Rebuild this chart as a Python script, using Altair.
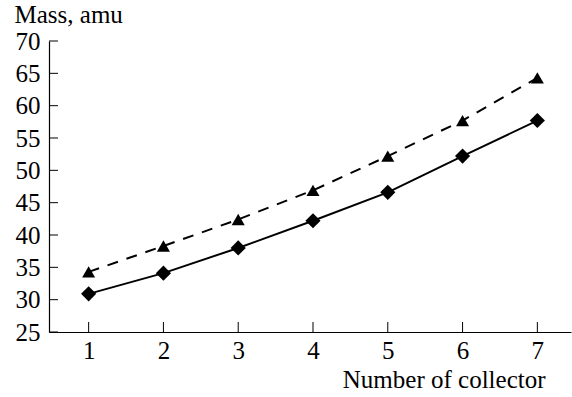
import altair as alt
import pandas as pd

collectors = [1, 2, 3, 4, 5, 6, 7]
mass_solid = [30.9, 34.1, 38.0, 42.2, 46.6, 52.2, 57.7]
mass_dashed = [34.3, 38.3, 42.4, 46.9, 52.2, 57.7, 64.3]
y_ticks = [25, 30, 35, 40, 45, 50, 55, 60, 65, 70]
x_ticks = [1, 2, 3, 4, 5, 6, 7]

FONT = "Liberation Serif"
FS = 25
W, H = 522, 291

solid = pd.DataFrame({"collector": collectors, "mass": mass_solid})
dashed = pd.DataFrame({"collector": collectors, "mass": mass_dashed})
yt = pd.DataFrame({"mass": y_ticks})
xt = pd.DataFrame({"collector": x_ticks})

xscale = alt.Scale(domain=[0.47, 7.45], nice=False, zero=False)
yscale = alt.Scale(domain=[25, 70], nice=False, zero=False)

xaxis = alt.Axis(values=x_ticks, title="Number of collector", titleAngle=0,
                 titleAlign="right", titleBaseline="alphabetic",
                 titleX=496, titleY=55, labelPadding=6, format="d",
                 labelOverlap=False)
yaxis = alt.Axis(values=y_ticks, title="Mass, amu", titleAngle=0,
                 titleAlign="left", titleBaseline="alphabetic",
                 titleX=-35, titleY=-19, labelPadding=9, format="d",
                 labelOverlap=False)

xenc = alt.X("collector:Q", scale=xscale, axis=xaxis)
yenc = alt.Y("mass:Q", scale=yscale, axis=yaxis)

line_solid = alt.Chart(solid).mark_line(color="black", strokeWidth=2).encode(x=xenc, y=yenc)
line_dashed = alt.Chart(dashed).mark_line(color="black", strokeWidth=2, strokeDash=[11, 9]).encode(
    x=xenc, y=yenc)
pts_solid = alt.Chart(solid).mark_point(shape="diamond", filled=True, color="black", size=230, opacity=1).encode(
    x=xenc, y=yenc)
pts_dashed = alt.Chart(dashed).mark_point(shape="triangle-up", filled=True, color="black", size=170, opacity=1).encode(
    x=xenc, y=yenc)

ytick_marks = alt.Chart(yt).mark_tick(color="black", thickness=1, size=9, orient="horizontal",
                                      opacity=1).encode(
    y=yenc, x=alt.value(4.5))
xtick_marks = alt.Chart(xt).mark_tick(color="black", thickness=1, size=10, orient="vertical",
                                      opacity=1).encode(
    x=xenc, y=alt.value(H - 5))

chart = alt.layer(line_dashed, line_solid, pts_solid, pts_dashed, ytick_marks, xtick_marks).properties(
    width=W, height=H,
    padding={"left": 49, "top": 41, "right": 1, "bottom": 65},
    autosize=alt.AutoSizeParams(type="none"),
    background="white",
).configure_view(stroke=None, clip=False).configure_axis(
    grid=False, ticks=False, domainColor="black", domainWidth=1.2, labelOverlap=False,
    labelFont=FONT, labelFontSize=FS, labelColor="black",
    titleFont=FONT, titleFontSize=FS, titleColor="black", titleFontWeight="normal",
)

chart.save("out.html", embed_options={"renderer": "svg", "actions": False})
